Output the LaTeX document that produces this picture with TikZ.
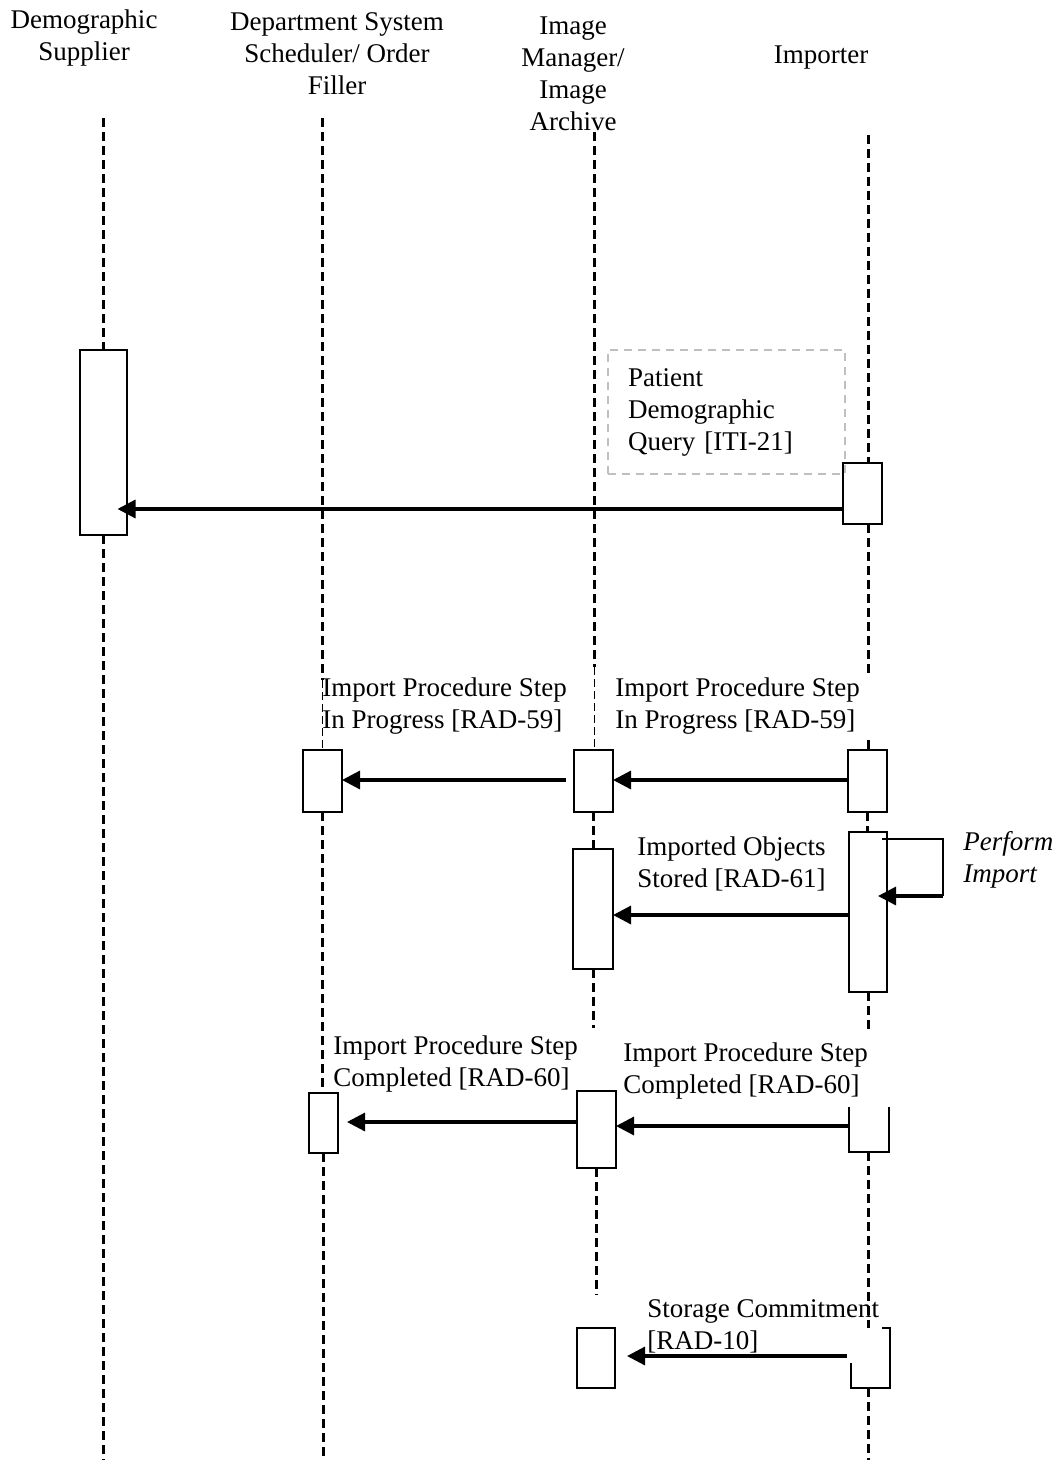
\documentclass[tikz,border=0pt]{standalone}
\usepackage{fontspec}
\setmainfont{Liberation Serif}
\usetikzlibrary{arrows.meta,positioning,calc}

\begin{document}
\begin{tikzpicture}[
        x=0.5pt, y=-0.5pt,
        font=\fontsize{13.5}{16}\selectfont,
        head/.style={align=center, inner sep=0pt},
        lbl/.style={align=left, anchor=west, inner sep=0pt},
        act/.style={draw, line width=1pt, fill=white, inner sep=0pt, outer sep=0pt},
        life/.style={line width=1.5pt, dash pattern=on 4.5pt off 2.5pt},
        lifethin/.style={line width=0.4pt, dash pattern=on 4pt off 2pt},
        msg/.style={line width=1.6pt, -{Triangle[length=9pt,width=9pt]}},
        note/.style={draw=gray!50, line width=0.6pt, dash pattern=on 4pt off 3pt, align=left, inner xsep=10pt, text width=98.5pt, minimum height=62pt}
    ]
        \useasboundingbox (0,0) rectangle (1058,1460);
        \coordinate (bot) at (0,1460);

        % actors
        \node[head] (hds) at (84,38) {Demographic\\Supplier};
        \node[head] (hdss) at (337,54) {Department System\\Scheduler/ Order\\Filler};
        \node[head] (him) at (573,74) {Image\\Manager/\\Image\\Archive};
        \node[head] (himp) at (821,58) {Importer};

        % activation boxes
        \node[act, minimum width=23.5pt, minimum height=92.5pt] (dsA) at (103,442.5) {};
        \node[act, minimum width=19.5pt, minimum height=30.5pt] (impA) at (862.5,493.5) {};
        \node[act, minimum width=19.5pt, minimum height=31pt] (dssB) at (322.5,781) {};
        \node[act, minimum width=19.5pt, minimum height=31pt] (imB) at (593.5,781) {};
        \node[act, minimum width=19.5pt, minimum height=31pt] (impB) at (867.5,781) {};
        \node[act, minimum width=20pt, minimum height=60pt] (imC) at (593,909) {};
        \node[act, minimum width=19pt, minimum height=80pt] (impC) at (868,912) {};
        \node[act, minimum width=14.5pt, minimum height=30pt] (dssD) at (323.5,1123) {};
        \node[act, minimum width=19.5pt, minimum height=38.5pt] (imD) at (596.5,1129.5) {};
        \node[act, draw=none, fill=none, minimum width=20pt, minimum height=22.5pt] (impD) at (869,1129.5) {};
        \node[act, minimum width=19pt, minimum height=30pt] (imE) at (596,1358) {};
        \node[act, draw=none, fill=none, minimum width=19.5pt, minimum height=30pt] (impE) at (870.5,1358) {};
        \draw[line width=1pt] (impD.north west) |- (impD.south east) -- (impD.north east);
        \draw[line width=1pt] ([xshift=-4pt]impE.north east) -- (impE.north east) -- (impE.south east) -- (impE.south west) -- ([yshift=12.5pt]impE.south west);

        % lifelines
        \coordinate (dsTop) at (103,118);
        \coordinate (dssTop) at (322,118);
        \coordinate (dssThin) at (322,680);
        \coordinate (imTop) at (594,132);
        \coordinate (imThin) at (594,667);
        \coordinate (impTop) at (868,135);
        \coordinate (impMid) at (868,740);
        \draw[life] (dsTop) -- (dsA.north);
        \draw[life] (dsA.south) -- (dsA.south |- bot);
        \draw[life] (dssTop) -- (dssThin);
        \draw[lifethin] (dssThin) -- (dssThin |- dssB.north);
        \draw[life] (dssB.south) -- (dssB.south |- dssD.north);
        \draw[life] (dssD.south) -- (dssD.south |- bot);
        \draw[life] (imTop) -- (imThin);
        \draw[lifethin] (imThin) -- (imThin |- imB.north);
        \draw[life] (imB.south) -- (imB.south |- imC.north);
        \draw[life] (imC.south) -- ++(0,59);
        \draw[life] (imD.south) -- ++(0,127);
        \draw[life] (impTop) -- (impTop |- impA.north);
        \draw[life] (impTop |- impA.south) -- ++(0,149);
        \draw[life] (impMid) -- (impMid |- impB.north);
        \draw[life] (impB.south) -- (impB.south |- impC.north);
        \draw[life] (impC.south) -- ++(0,40);
        \draw[life] (impMid |- impD.south) -- (impMid |- impE.north);
        \draw[life] (impMid |- impE.south) -- (impMid |- bot);

        % messages
        \coordinate (m1) at (0,509);
        \coordinate (m2) at (0,780);
        \coordinate (m4) at (0,915);
        \coordinate (m5) at (0,1122);
        \coordinate (m6) at (0,1126);
        \coordinate (m7) at (0,1356);
        \node[note] (pdq) at (726.5,412) {Patient\\Demographic\\Query [ITI-21]};
        \draw[msg, shorten >=-4.5pt] (impA.west |- m1) -- (dsA.east |- m1);

        \node[lbl] (ips1) at (322,706) {Import Procedure Step\\In Progress [RAD-59]};
        \node[lbl] (ips2) at (615,706) {Import Procedure Step\\In Progress [RAD-59]};
        \draw[msg, shorten <=4pt] (imB.west |- m2) -- (dssB.east |- m2);
        \draw[msg] (impB.west |- m2) -- (imB.east |- m2);

        \node[lbl] (ios) at (637,864) {Imported Objects\\Stored [RAD-61]};
        \draw[msg] (impC.west |- m4) -- (imC.east |- m4);
        \coordinate (loopa) at (882,839);
        \coordinate (loopb) at (943,896);
        \draw[line width=1pt] (loopa) -| (loopb);
        \draw[msg, shorten >=-4.5pt] (loopb) -- (impC.east |- loopb);
        \node[lbl, font=\fontsize{13.5}{16}\selectfont\itshape] (perf) at (963,860) {Perform\\Import};

        \node[lbl] (ipc1) at (333,1064) {Import Procedure Step\\Completed [RAD-60]};
        \node[lbl] (ipc2) at (623,1071) {Import Procedure Step\\Completed [RAD-60]};
        \draw[msg, shorten >=4.5pt] (imD.west |- m5) -- (dssD.east |- m5);
        \draw[msg] (impD.west |- m6) -- (imD.east |- m6);

        \node[lbl] (sc) at (647,1326) {Storage Commitment\\{[RAD-10]}};
        \draw[msg, shorten <=2pt, shorten >=6pt] (impE.west |- m7) -- (imE.east |- m7);
    \end{tikzpicture}
\end{document}
